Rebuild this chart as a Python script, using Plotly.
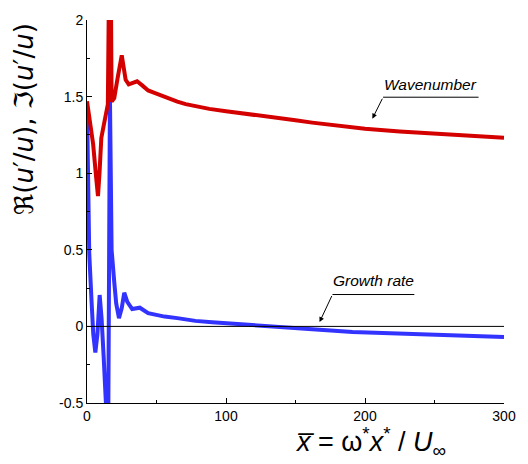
import plotly.graph_objects as go

# Wavenumber (real part)
wave_x = [0, 2, 4.4, 6.5, 7.9, 9, 10.3, 12, 13.8, 15, 16.2, 16.9, 17.7, 19.6, 22, 25, 27.8, 30, 33, 36, 39.5, 44, 49, 53.5, 59, 65, 71, 78, 88, 100, 112, 125, 137, 150, 162, 175, 187, 200, 225, 250, 275, 300]
wave_y = [1.47, 1.33, 1.19, 0.98, 0.85, 1.0, 1.23, 1.31, 1.38, 1.45, 2.6, 2.6, 1.467, 1.49, 1.62, 1.77, 1.61, 1.58, 1.59, 1.60, 1.575, 1.54, 1.523, 1.506, 1.486, 1.467, 1.451, 1.436, 1.42, 1.405, 1.392, 1.378, 1.362, 1.345, 1.33, 1.315, 1.302, 1.29, 1.272, 1.258, 1.245, 1.232]

# Growth rate (imaginary part)
grow_x = [0, 0.8, 1.6, 3.3, 4.5, 6, 7.5, 9.1, 10.5, 12, 13.5, 15.2, 16.5, 17.7, 19.6, 21, 23, 25, 26.8, 29, 32.5, 35, 38, 44, 50, 55.8, 65, 78, 90, 100, 115, 128, 150, 170, 191, 220, 250, 275, 300]
grow_y = [1.45, 1.0, 0.48, 0.16, -0.05, -0.17, -0.05, 0.205, 0.05, -0.2, -0.45, -0.8, 1.5, 0.5, 0.29, 0.15, 0.054, 0.12, 0.22, 0.16, 0.113, 0.12, 0.122, 0.086, 0.074, 0.064, 0.054, 0.036, 0.027, 0.02, 0.01, 0.0, -0.01, -0.024, -0.037, -0.047, -0.055, -0.062, -0.069]

x_ticks = [0, 100, 200, 300]
y_ticks = [-0.5, 0, 0.5, 1, 1.5, 2]
y_tick_labels = ["-0.5", "0", "0.5", "1", "1.5", "2"]

fig = go.Figure()
fig.add_trace(go.Scatter(x=grow_x, y=grow_y, mode="lines",
                         line=dict(color="#3333ff", width=4), showlegend=False))
fig.add_trace(go.Scatter(x=wave_x, y=wave_y, mode="lines",
                         line=dict(color="#d40000", width=4), showlegend=False))

# zero line
fig.add_shape(type="line", x0=0, x1=300, y0=0, y1=0, xref="x", yref="y",
              line=dict(color="black", width=1), layer="above")

# Wavenumber callout
fig.add_shape(type="line", x0=213, x1=281.7, y0=1.496, y1=1.496, xref="x", yref="y",
              line=dict(color="black", width=1))
fig.add_annotation(x=205.3, y=1.356, ax=213, ay=1.496, axref="x", ayref="y",
                   xref="x", yref="y", text="", showarrow=True,
                   arrowhead=2, arrowsize=1, arrowwidth=1, arrowcolor="black")
fig.add_annotation(x=247.4, y=1.58, xref="x", yref="y", text="<i>Wavenumber</i>",
                   showarrow=False, font=dict(family="Liberation Sans", size=15.5, color="black"))

# Growth rate callout
fig.add_shape(type="line", x0=176.6, x1=235.5, y0=0.208, y1=0.208, xref="x", yref="y",
              line=dict(color="black", width=1))
fig.add_annotation(x=167.3, y=0.028, ax=176.6, ay=0.208, axref="x", ayref="y",
                   xref="x", yref="y", text="", showarrow=True,
                   arrowhead=2, arrowsize=1, arrowwidth=1, arrowcolor="black")
fig.add_annotation(x=206, y=0.302, xref="x", yref="y", text="<i>Growth rate</i>",
                   showarrow=False, font=dict(family="Liberation Sans", size=15.5, color="black"))

# axis titles as annotations
fig.add_annotation(
    x=-0.150, y=0.743, xref="paper", yref="paper", textangle=-90,
    text="ℜ(<i>u</i>′/<i>u</i>), ℑ(<i>u</i>′/<i>u</i>)",
    showarrow=False, xanchor="center", yanchor="middle",
    font=dict(family="DejaVu Sans", size=26, color="black"))
fig.add_annotation(
    x=0.679, y=-0.102, xref="paper", yref="paper",
    text="<i>x̅</i> = ω<sup>*</sup><i>x</i><sup>*</sup> / <i>U</i><sub>∞</sub>",
    showarrow=False, xanchor="center", yanchor="middle",
    font=dict(family="Liberation Sans", size=27, color="black"))

fig.update_layout(
    width=528, height=464,
    margin=dict(l=87, r=13, t=14, b=61),
    paper_bgcolor="white", plot_bgcolor="white",
    font=dict(family="Liberation Sans", size=14, color="black"),
    xaxis=dict(range=[0, 300], tickvals=x_ticks, ticktext=[str(v) for v in x_ticks],
               showline=True, linecolor="black", linewidth=1, mirror=False,
               ticks="inside", ticklen=5, tickcolor="black", showgrid=False, zeroline=False,
               minor=dict(tickvals=[50, 150, 250], ticks="inside", ticklen=3, tickcolor="black")),
    yaxis=dict(range=[-0.5, 2], tickvals=y_ticks, ticktext=y_tick_labels,
               showline=True, linecolor="black", linewidth=1, mirror=False,
               ticks="inside", ticklen=5, tickcolor="black", showgrid=False, zeroline=False,
               minor=dict(tickvals=[-0.25, 0.25, 0.75, 1.25, 1.75], ticks="inside", ticklen=3,
                          tickcolor="black")),
)

fig.write_html("out.html")
